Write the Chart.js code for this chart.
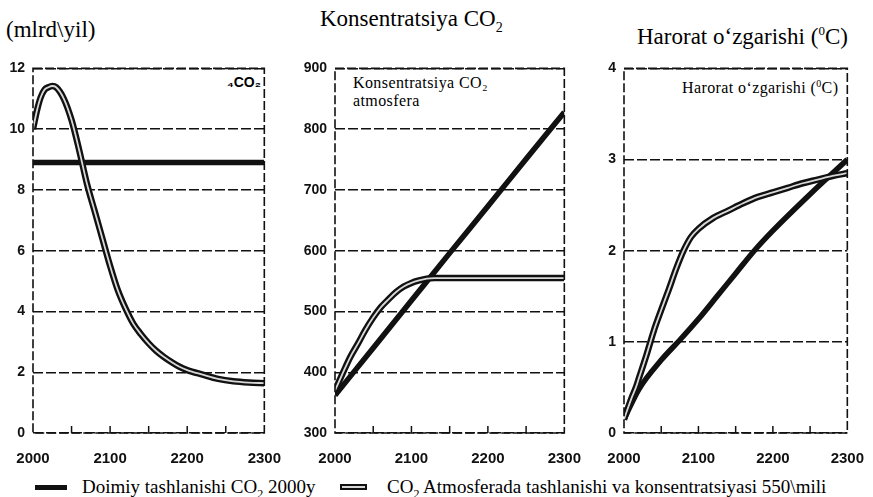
<!DOCTYPE html>
<html>
<head>
<meta charset="utf-8">
<script src="https://cdn.jsdelivr.net/npm/chart.js@4.4.1/dist/chart.umd.min.js"></script>
<style>
  body { margin: 0; background: #fff; }
  #wrap { position: relative; width: 873px; height: 497px; overflow: hidden; background: #fff; }
  canvas { position: absolute; }
  .t { position: absolute; font-family: 'Liberation Serif', 'DejaVu Serif', serif; color: #000; white-space: nowrap; }
  .in { font-size: 16px; letter-spacing: 0.4px; line-height: 18px; }
  .sw { position: absolute; }
</style>
</head>
<body>
<div id="wrap">
  <div class="t" style="left:6px; top:18px; font-size:23px; line-height:23px;">(mlrd\yil)</div>
  <div class="t" style="left:320px; top:7px; font-size:23px; line-height:23px;">Konsentratsiya CO<sub style="font-size:14px">2</sub></div>
  <div class="t" style="left:637px; top:19px; font-size:23px; line-height:23px;">Harorat o‘zgarishi (<sup style="font-size:13px">0</sup>C)</div>

  <div class="t" style="left:227px; top:74px; font-size:14px; font-family:'Liberation Sans Narrow','Liberation Sans',sans-serif; font-weight:bold;">₄CO₂</div>
  <div class="t in" style="left:353px; top:74px;">Konsentratsiya CO₂<br>atmosfera</div>
  <div class="t in" style="left:682px; top:75px;">Harorat o‘zgarishi (<sup style="font-size:10px">0</sup>C)</div>

  <div class="sw" style="left:35px; top:485px; width:32px; height:5px; background:#111;"></div>
  <div class="t" style="left:82px; top:477px; font-size:19px; line-height:20px;">Doimiy tashlanishi CO<sub style="font-size:12px">2</sub> 2000y</div>
  <div class="sw" style="left:340px; top:484px; width:23px; height:2px; border:2px solid #111; background:#d8d8d8;"></div>
  <div class="t" style="left:387px; top:477px; font-size:19px; line-height:20px;">CO<sub style="font-size:12px">2</sub> Atmosferada tashlanishi va konsentratsiyasi 550\mili</div>

  <canvas id="c1" width="290" height="420" style="left:0px; top:52px;"></canvas>
  <canvas id="c2" width="290" height="420" style="left:300px; top:52px;"></canvas>
  <canvas id="c3" width="283" height="420" style="left:590px; top:52px;"></canvas>
</div>
<script>
// Panel 1: emissiya (mlrd/yil)
var emisYears = [2000, 2005, 2010, 2015, 2020, 2025, 2030, 2040, 2050, 2060, 2070, 2080, 2090, 2100, 2110, 2120, 2130, 2140, 2150, 2160, 2170, 2180, 2190, 2200, 2220, 2240, 2260, 2280, 2300];
var emis550 = [10.0, 10.6, 11.05, 11.3, 11.38, 11.42, 11.38, 11.0, 10.3, 9.3, 8.2, 7.3, 6.4, 5.5, 4.7, 4.1, 3.6, 3.25, 2.95, 2.7, 2.5, 2.33, 2.18, 2.07, 1.92, 1.78, 1.7, 1.66, 1.64];
var emisConstYears = [2000, 2300];
var emisConst = [8.9, 8.9];

// Panel 2: konsentratsiya CO2 (ppm)
var concConstYears = [2000, 2050, 2100, 2150, 2200, 2250, 2300];
var concConst = [362, 440, 518, 596, 673, 751, 828];
var conc550Years = [2000, 2010, 2020, 2030, 2040, 2050, 2060, 2070, 2080, 2090, 2100, 2110, 2120, 2130, 2200, 2300];
var conc550 = [370, 398, 425, 447, 470, 490, 507, 520, 532, 541, 547, 551, 554, 555, 555, 555];

// Panel 3: harorat o'zgarishi (C)
var tempConstYears = [2000, 2020, 2050, 2075, 2100, 2125, 2150, 2175, 2200, 2250, 2300];
var tempConst = [0.15, 0.48, 0.8, 1.02, 1.25, 1.5, 1.75, 2.0, 2.22, 2.62, 3.0];
var temp550Years = [2000, 2010, 2016, 2020, 2030, 2040, 2050, 2060, 2070, 2080, 2090, 2100, 2120, 2140, 2160, 2180, 2200, 2220, 2240, 2260, 2280, 2300];
var temp550 = [0.15, 0.38, 0.5, 0.6, 0.85, 1.12, 1.35, 1.57, 1.8, 2.0, 2.15, 2.24, 2.36, 2.44, 2.52, 2.59, 2.64, 2.69, 2.74, 2.78, 2.82, 2.85];

var xLabels = [2000, 2100, 2200, 2300];
var minorTicks = [2050, 2100, 2150, 2200, 2250];

function pts(xs, ys) {
	return xs.map((x, i) => ({ x: x, y: ys[i] }));
}

var narrow = "'Liberation Sans Narrow', 'Liberation Sans', sans-serif";

// cadre pointillé + petites graduations en bas
var framePlugin = {
	id: 'frame',
	afterDraw(chart) {
		var a = chart.chartArea, ctx = chart.ctx, xs = chart.scales.x;
		ctx.save();
		ctx.strokeStyle = '#111';
		ctx.lineWidth = 1.6;
		ctx.setLineDash([9, 3]);
		ctx.strokeRect(a.left, a.top, a.right - a.left, a.bottom - a.top);
		ctx.setLineDash([]);
		ctx.lineWidth = 1.5;
		minorTicks.forEach(v => {
			var px = xs.getPixelForValue(v);
			ctx.beginPath();
			ctx.moveTo(px, a.bottom);
			ctx.lineTo(px, a.bottom - 7);
			ctx.stroke();
		});
		ctx.restore();
	}
};

// ligne "double" : bord noir + coeur clair
function outlined(data) {
	return [
		{ data: data, borderColor: '#111', borderWidth: 6.5, pointRadius: 0, cubicInterpolationMode: 'monotone', order: 3 },
		{ data: data, borderColor: '#d8d8d8', borderWidth: 1.8, pointRadius: 0, cubicInterpolationMode: 'monotone', order: 1 }
	];
}

function solid(data) {
	return { data: data, borderColor: '#111', borderWidth: 5.5, pointRadius: 0, cubicInterpolationMode: 'monotone', order: 2 };
}

function makeChart(id, datasets, yMin, yMax, yStep, yWidth, padRight) {
	return new Chart(document.getElementById(id), {
		type: 'line',
		data: { datasets: datasets },
		plugins: [framePlugin],
		options: {
			responsive: false,
			animation: false,
			layout: { autoPadding: false, padding: { top: 10, right: padRight, bottom: 0, left: 0 } },
			plugins: { legend: { display: false }, tooltip: { enabled: false } },
			scales: {
				x: {
					type: 'linear', min: 2000, max: 2300,
					afterFit: s => { s.height = 39; },
					afterBuildTicks: s => { s.ticks = xLabels.map(v => ({ value: v })); },
					ticks: { font: { family: narrow, weight: 'bold', size: 15 }, color: '#111', padding: 9, maxRotation: 0, callback: v => String(v) },
					grid: { display: false },
					border: { display: false }
				},
				y: {
					min: yMin, max: yMax,
					afterFit: s => { s.width = yWidth; },
					ticks: { stepSize: yStep, font: { family: narrow, weight: 'bold', size: 14 }, color: '#111', padding: 8, callback: v => String(v) },
					grid: { color: '#111', lineWidth: 1.4, drawTicks: false },
					border: { display: false, dash: [10, 3] }
				}
			}
		}
	});
}

makeChart('c1', outlined(pts(emisYears, emis550)).concat([solid(pts(emisConstYears, emisConst))]), 0, 12, 2, 33, 20);
makeChart('c2', outlined(pts(conc550Years, conc550)).concat([solid(pts(concConstYears, concConst))]), 300, 900, 100, 35, 17);
makeChart('c3', outlined(pts(temp550Years, temp550)).concat([solid(pts(tempConstYears, tempConst))]), 0, 4, 1, 34, 11);
</script>
</body>
</html>
